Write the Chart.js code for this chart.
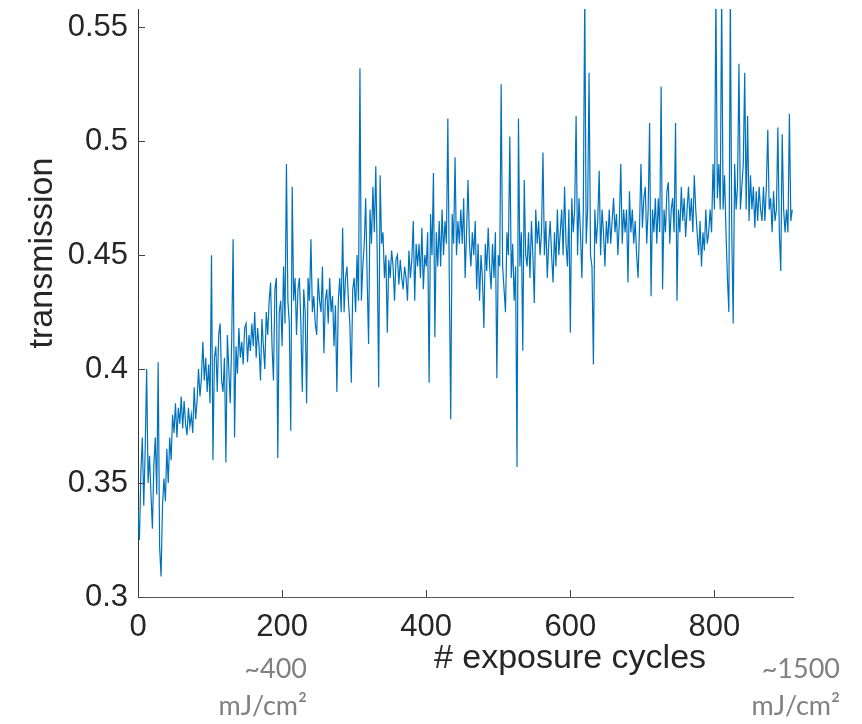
<!DOCTYPE html>
<html>
<head>
<meta charset="utf-8">
<script src="https://cdn.jsdelivr.net/npm/chart.js@4/dist/chart.umd.min.js"></script>
<style>
html,body{margin:0;padding:0;background:#fff;}
#c{display:block;}
</style>
</head>
<body>
<canvas id="c" width="862" height="724"></canvas>
<script>
const cycles = [
0,2,4,6,8,10,12,14,16,18,20,22,24,26,28,
30,32,34,36,38,40,42,44,46,48,50,52,54,56,58,
60,62,64,66,68,70,72,74,76,78,80,82,84,86,88,
90,92,94,96,98,100,102,104,106,108,110,112,114,116,118,
120,122,124,126,128,130,132,134,136,138,140,142,144,146,148,
150,152,154,156,158,160,162,164,166,168,170,172,174,176,178,
180,182,184,186,188,190,192,194,196,198,200,202,204,206,208,
210,212,214,216,218,220,222,224,226,228,230,232,234,236,238,
240,242,244,246,248,250,252,254,256,258,260,262,264,266,268,
270,272,274,276,278,280,282,284,286,288,290,292,294,296,298,
300,302,304,306,308,310,312,314,316,318,320,322,324,326,328,
330,332,334,336,338,340,342,344,346,348,350,352,354,356,358,
360,362,364,366,368,370,372,374,376,378,380,382,384,386,388,
390,392,394,396,398,400,402,404,406,408,410,412,414,416,418,
420,422,424,426,428,430,432,434,436,438,440,442,444,446,448,
450,452,454,456,458,460,462,464,466,468,470,472,474,476,478,
480,482,484,486,488,490,492,494,496,498,500,502,504,506,508,
510,512,514,516,518,520,522,524,526,528,530,532,534,536,538,
540,542,544,546,548,550,552,554,556,558,560,562,564,566,568,
570,572,574,576,578,580,582,584,586,588,590,592,594,596,598,
600,602,604,606,608,610,612,614,616,618,620,622,624,626,628,
630,632,634,636,638,640,642,644,646,648,650,652,654,656,658,
660,662,664,666,668,670,672,674,676,678,680,682,684,686,688,
690,692,694,696,698,700,702,704,706,708,710,712,714,716,718,
720,722,724,726,728,730,732,734,736,738,740,742,744,746,748,
750,752,754,756,758,760,762,764,766,768,770,772,774,776,778,
780,782,784,786,788,790,792,794,796,798,800,802,804,806,808,
810,812,814,816,818,820,822,824,826,828,830,832,834,836,838,
840,842,844,846,848,850,852,854,856,858,860,862,864,866,868,
870,872,874,876,878,880,882,884,886,888,890,892,894,896,898,
900,902,904,906,908
];
const transmission = [
0.338,0.325,0.355,0.37,0.34,0.365,0.40,0.35,0.362,0.345,0.33,0.358,0.37,0.345,0.403,
0.322,0.309,0.34,0.352,0.342,0.365,0.35,0.37,0.36,0.38,0.372,0.385,0.37,0.383,0.376,
0.388,0.374,0.386,0.376,0.371,0.383,0.375,0.38,0.372,0.392,0.378,0.386,0.40,0.388,0.396,
0.412,0.395,0.405,0.39,0.402,0.385,0.45,0.36,0.405,0.41,0.39,0.415,0.42,0.395,0.39,
0.405,0.359,0.415,0.40,0.385,0.412,0.457,0.37,0.41,0.398,0.418,0.405,0.412,0.402,0.418,
0.42,0.403,0.415,0.408,0.42,0.41,0.425,0.405,0.418,0.41,0.395,0.422,0.41,0.40,0.425,
0.415,0.43,0.438,0.41,0.395,0.435,0.44,0.361,0.425,0.43,0.41,0.445,0.42,0.49,0.43,
0.42,0.373,0.48,0.43,0.44,0.415,0.435,0.44,0.42,0.39,0.435,0.425,0.385,0.44,0.43,
0.457,0.425,0.432,0.42,0.415,0.44,0.43,0.425,0.445,0.407,0.43,0.435,0.42,0.44,0.425,
0.432,0.41,0.428,0.39,0.43,0.44,0.425,0.462,0.425,0.44,0.445,0.43,0.42,0.394,0.435,
0.44,0.425,0.45,0.43,0.532,0.43,0.445,0.455,0.475,0.44,0.411,0.47,0.455,0.48,0.46,
0.489,0.45,0.392,0.485,0.455,0.46,0.44,0.45,0.416,0.448,0.44,0.452,0.445,0.43,0.448,
0.45,0.437,0.448,0.44,0.435,0.445,0.44,0.43,0.452,0.44,0.448,0.465,0.43,0.455,0.445,
0.455,0.44,0.462,0.435,0.45,0.445,0.46,0.394,0.468,0.45,0.486,0.414,0.46,0.445,0.465,
0.445,0.47,0.45,0.465,0.455,0.51,0.44,0.378,0.468,0.455,0.493,0.45,0.465,0.455,0.47,
0.455,0.475,0.44,0.46,0.483,0.455,0.445,0.46,0.45,0.465,0.435,0.455,0.43,0.45,0.44,
0.418,0.455,0.443,0.462,0.445,0.435,0.455,0.44,0.46,0.396,0.45,0.445,0.525,0.445,0.435,
0.425,0.46,0.45,0.502,0.44,0.455,0.43,0.445,0.357,0.51,0.445,0.46,0.408,0.483,0.45,
0.445,0.46,0.44,0.465,0.45,0.429,0.47,0.455,0.465,0.45,0.46,0.495,0.45,0.465,0.44,
0.455,0.465,0.45,0.438,0.46,0.445,0.47,0.45,0.46,0.47,0.45,0.48,0.455,0.445,0.47,
0.416,0.475,0.46,0.47,0.511,0.45,0.475,0.46,0.44,0.47,0.565,0.455,0.47,0.53,0.45,
0.445,0.402,0.47,0.455,0.465,0.487,0.45,0.47,0.46,0.445,0.465,0.455,0.47,0.455,0.465,
0.475,0.46,0.468,0.45,0.465,0.49,0.455,0.47,0.46,0.47,0.438,0.478,0.46,0.47,0.455,
0.465,0.45,0.44,0.462,0.49,0.462,0.475,0.48,0.455,0.47,0.508,0.432,0.47,0.46,0.475,
0.455,0.475,0.46,0.524,0.435,0.47,0.46,0.478,0.482,0.455,0.47,0.475,0.46,0.508,0.43,
0.47,0.46,0.48,0.465,0.475,0.458,0.47,0.48,0.465,0.475,0.46,0.485,0.47,0.46,0.45,
0.465,0.445,0.46,0.452,0.47,0.455,0.46,0.47,0.46,0.49,0.47,0.565,0.475,0.49,0.47,
0.565,0.47,0.485,0.46,0.44,0.425,0.565,0.46,0.42,0.49,0.47,0.48,0.534,0.47,0.48,
0.49,0.53,0.47,0.511,0.465,0.485,0.47,0.48,0.462,0.478,0.465,0.48,0.47,0.465,0.48,
0.465,0.48,0.505,0.47,0.475,0.46,0.478,0.465,0.47,0.506,0.46,0.443,0.503,0.47,0.46,
0.47,0.46,0.512,0.465,0.47
];
const xTicks = [0, 200, 400, 600, 800];
const xTickLabels = ['0', '200', '400', '600', '800'];
const yTicks = [0.3, 0.35, 0.4, 0.45, 0.5, 0.55];
const yTickLabels = ['0.3', '0.35', '0.4', '0.45', '0.5', '0.55'];
const xTitle = '# exposure cycles';
const yTitle = 'transmission';
const noteLeft = ['~400', 'mJ/cm\u00B2'];
const noteRight = ['~1500', 'mJ/cm\u00B2'];

const points = cycles.map((c, i) => ({x: c, y: transmission[i]}));

const decor = {
  id: 'decor',
  afterDraw(chart) {
    const ctx = chart.ctx;
    const xs = chart.scales.x, ys = chart.scales.y;
    const a = chart.chartArea;
    ctx.save();
    ctx.strokeStyle = '#444';
    ctx.lineWidth = 1;
    xTicks.forEach(v => {
      const px = Math.round(xs.getPixelForValue(v)) + 0.5;
      ctx.beginPath(); ctx.moveTo(px, a.bottom); ctx.lineTo(px, a.bottom - 7); ctx.stroke();
    });
    yTicks.forEach(v => {
      const py = Math.round(ys.getPixelForValue(v)) + 0.5;
      ctx.beginPath(); ctx.moveTo(a.left, py); ctx.lineTo(a.left + 7, py); ctx.stroke();
    });
    ctx.fillStyle = '#262626';
    ctx.font = '34px "Liberation Sans", Arial, sans-serif';
    ctx.textAlign = 'center';
    ctx.textBaseline = 'alphabetic';
    ctx.fillText(xTitle, 570, 668);
    ctx.save();
    ctx.translate(52, 253);
    ctx.rotate(-Math.PI / 2);
    ctx.fillText(yTitle, 0, 0);
    ctx.restore();
    ctx.fillStyle = '#808080';
    ctx.font = '27px Lato, "Open Sans", sans-serif';
    ctx.textAlign = 'right';
    ctx.fillText(noteLeft[0], 307, 678);
    ctx.fillText(noteLeft[1], 307, 715);
    ctx.fillText(noteRight[0], 840, 678);
    ctx.fillText(noteRight[1], 840, 715);
    ctx.restore();
  }
};

new Chart(document.getElementById('c'), {
  type: 'line',
  data: {
    datasets: [{
      data: points,
      borderColor: '#0072BD',
      borderWidth: 1.2,
      pointRadius: 0,
      tension: 0,
      fill: false
    }]
  },
  options: {
    responsive: false,
    animation: false,
    layout: {padding: {left: 0, right: 69, top: 9, bottom: 0}},
    plugins: {legend: {display: false}, tooltip: {enabled: false}},
    scales: {
      x: {
        type: 'linear',
        min: 0,
        max: 909,
        afterBuildTicks: s => { s.ticks = xTicks.map(v => ({value: v})); },
        afterFit: s => { s.height = 127; s.paddingLeft = 0; s.paddingRight = 0; },
        grid: {display: true, drawOnChartArea: false, drawTicks: false},
        border: {display: true, color: '#555', width: 1},
        ticks: {
          padding: 12,
          color: '#262626',
          font: {family: '"Liberation Sans", Arial, sans-serif', size: 31},
          maxRotation: 0,
          autoSkip: false,
          callback: (v) => { const i = xTicks.indexOf(v); return i >= 0 ? xTickLabels[i] : ''; }
        }
      },
      y: {
        type: 'linear',
        min: 0.3,
        max: 0.558,
        afterBuildTicks: s => { s.ticks = yTicks.map(v => ({value: v})); },
        afterFit: s => { s.width = 138; s.paddingTop = 0; s.paddingBottom = 0; },
        grid: {display: true, drawOnChartArea: false, drawTicks: false},
        border: {display: true, color: '#333', width: 1},
        ticks: {
          padding: 10,
          color: '#262626',
          font: {family: '"Liberation Sans", Arial, sans-serif', size: 31},
          autoSkip: false,
          callback: (v) => { const i = yTicks.findIndex(t => Math.abs(t - v) < 1e-9); return i >= 0 ? yTickLabels[i] : ''; }
        }
      }
    }
  },
  plugins: [decor]
});
</script>
</body>
</html>
